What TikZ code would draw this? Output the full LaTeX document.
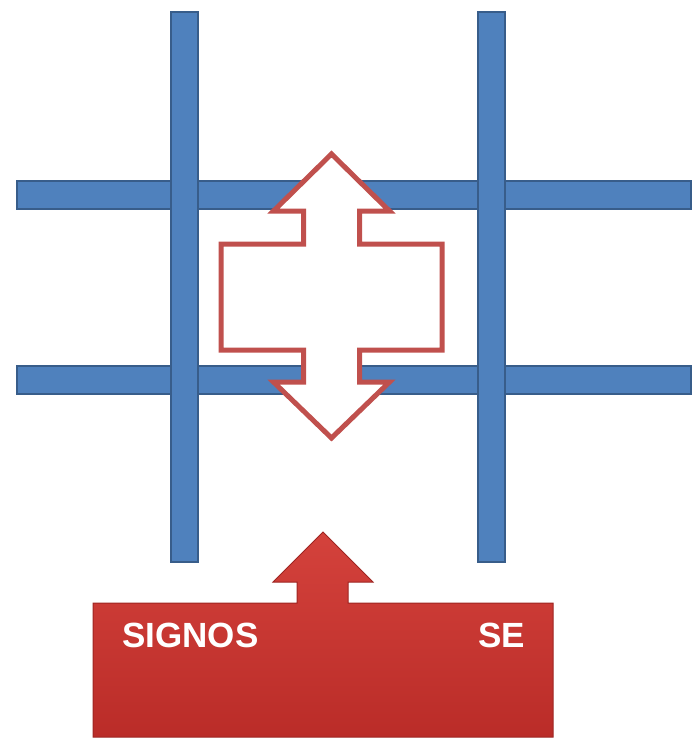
\documentclass[tikz,border=0pt]{standalone}
\usepackage{fontspec}
\setmainfont{Liberation Sans}
\usepackage{tikz}

\definecolor{barblue}{RGB}{79,129,189}
\definecolor{barline}{RGB}{56,93,138}
\definecolor{arrowred}{RGB}{192,80,77}
\definecolor{boxtop}{RGB}{212,66,60}
\definecolor{boxbot}{RGB}{186,44,40}

\tikzset{
  bar/.style={fill=barblue, draw=barline, line width=1.2pt},
  outlinearrow/.style={fill=white, draw=arrowred, line width=5pt, line join=miter},
  signbox/.style={top color=boxtop, bottom color=boxbot, draw=boxbot!85!black, line width=1pt},
  signtext/.style={text=white, inner sep=0pt, font=\bfseries\fontsize{35}{38}\selectfont}
}

\begin{document}
\begin{tikzpicture}[x=1pt, y=-1pt]
\useasboundingbox (0,0) rectangle (693,742);

% horizontal bars
\draw[bar] (17,181) rectangle (691,209);
\draw[bar] (17,366) rectangle (691,394);

% vertical bars
\draw[bar] (171,12) rectangle (198,562);
\draw[bar] (478,12) rectangle (505,562);

% double arrow in the middle
\draw[outlinearrow] (331.5,154) -- (389.5,211) -- (359.5,211) -- (359.5,244)
  -- (442,244) -- (442,350) -- (359.5,350) -- (359.5,382) -- (389.5,382)
  -- (331.5,438) -- (273.5,382) -- (303.5,382) -- (303.5,350) -- (221,350)
  -- (221,244) -- (303.5,244) -- (303.5,211) -- (273.5,211) -- cycle;

% box with arrow up
\draw[signbox] (93,603) -- (297,603) -- (297,582) -- (273,582) -- (323,532)
  -- (373,582) -- (348,582) -- (348,603) -- (553,603) -- (553,737)
  -- (93,737) -- cycle;

\node[signtext, anchor=base west] (signos) at (122,647) {SIGNOS};
\node[signtext, anchor=base east] (se) at (525,647) {SE};

\end{tikzpicture}
\end{document}
